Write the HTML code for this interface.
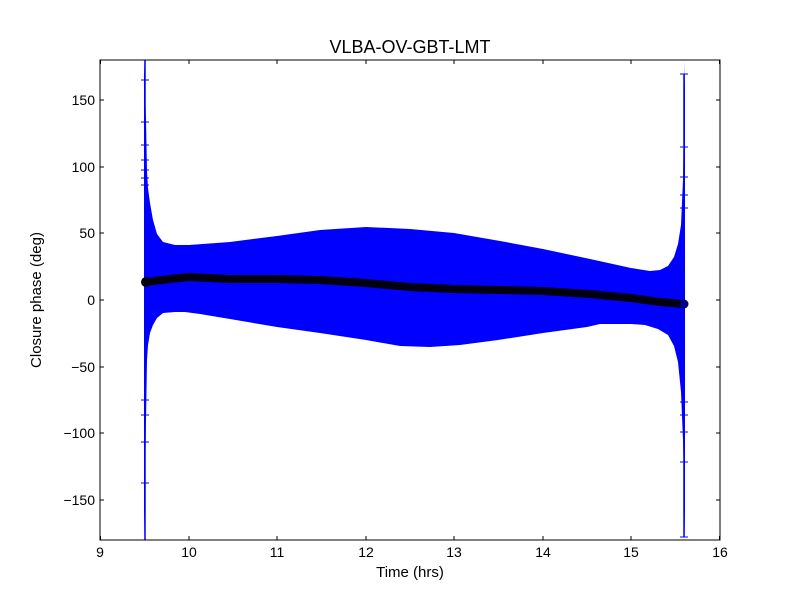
<!DOCTYPE html>
<html><head><style>body{margin:0;background:#fff}svg{display:block}text{font-family:"Liberation Sans","DejaVu Sans",sans-serif}</style></head><body>
<svg width="800" height="600" viewBox="0 0 800 600">
<rect width="800" height="600" fill="#fff"/>
<polygon fill="#0000ff" points="144,60 146,120 147,172 148,188 150,203 153,220 157,234 163,242 175,245 189,245 230,242 277,236 320,230 366,227 410,229 454,233 500,241 543,249 590,259 631,268 650,271 660,270 668,266 674,257 678,244 681,225 683,180 684,120 685,60 685,540 684,480 683,440 681,392 678,362 674,346 668,335 658,329 645,325 631,324 600,324 587,327 543,333 498,340 460,345 430,347 400,346 366,340 320,333 277,327 230,319 200,314 185,312 175,312 163,313 157,318 153,325 150,333 148,345 147,360 146,420 144,540"/>
<line x1="145" y1="60" x2="145" y2="540" stroke="#0000ff" stroke-width="1.5"/>
<line x1="684" y1="74" x2="684" y2="537" stroke="#0000ff" stroke-width="1.5"/>
<g stroke="#0000ff" stroke-width="1">
<line x1="141" x2="149" y1="80" y2="80"/><line x1="141" x2="149" y1="122" y2="122"/><line x1="141" x2="149" y1="145" y2="145"/><line x1="141" x2="149" y1="160" y2="160"/><line x1="141" x2="149" y1="170" y2="170"/><line x1="141" x2="149" y1="178" y2="178"/><line x1="141" x2="149" y1="185" y2="185"/>
<line x1="141" x2="149" y1="442" y2="442"/><line x1="141" x2="149" y1="483" y2="483"/><line x1="141" x2="149" y1="415" y2="415"/><line x1="141" x2="149" y1="400" y2="400"/>
<line x1="680" x2="688" y1="74" y2="74"/><line x1="680" x2="688" y1="147" y2="147"/><line x1="680" x2="688" y1="177" y2="177"/><line x1="680" x2="688" y1="195" y2="195"/><line x1="680" x2="688" y1="208" y2="208"/>
<line x1="680" x2="688" y1="537" y2="537"/><line x1="680" x2="688" y1="462" y2="462"/><line x1="680" x2="688" y1="432" y2="432"/><line x1="680" x2="688" y1="415" y2="415"/><line x1="680" x2="688" y1="402" y2="402"/>
</g>
<polyline fill="none" stroke="#000010" stroke-width="8" stroke-linecap="round" points="146,282 170,279 189,277 230,279 277,279 320,280 366,283 410,287 454,289 500,290 543,291 590,294 631,298 660,302 684,304"/>
<circle cx="146" cy="282" r="5" fill="#000010"/><circle cx="684" cy="304" r="4.5" fill="#000080"/>
<rect x="100" y="60" width="620" height="480" fill="none" stroke="#000" stroke-width="1"/>
<g stroke="#000" stroke-width="1">
<path d="M100.5,540v-4M189,540v-4M277,540v-4M366,540v-4M454,540v-4M543,540v-4M631,540v-4M719.5,540v-4M100.5,60v4M189,60v4M277,60v4M366,60v4M454,60v4M543,60v4M631,60v4M719.5,60v4"/>
<path d="M100,100h4M100,167h4M100,233h4M100,300h4M100,367h4M100,433h4M100,500h4M720,100h-4M720,167h-4M720,233h-4M720,300h-4M720,367h-4M720,433h-4M720,500h-4"/>
</g>
<g font-size="14" text-anchor="middle" fill="#000">
<text x="100" y="557">9</text><text x="189" y="557">10</text><text x="277" y="557">11</text><text x="366" y="557">12</text><text x="454" y="557">13</text><text x="543" y="557">14</text><text x="631" y="557">15</text><text x="720" y="557">16</text>
</g>
<g font-size="14" text-anchor="end" fill="#000">
<text x="95" y="105">150</text><text x="95" y="172">100</text><text x="95" y="238">50</text><text x="95" y="305">0</text><text x="95" y="372">−50</text><text x="95" y="438">−100</text><text x="95" y="505">−150</text>
</g>
<text x="410" y="577" font-size="15" text-anchor="middle">Time (hrs)</text>
<text transform="translate(41,300) rotate(-90)" font-size="15" text-anchor="middle">Closure phase (deg)</text>
<text x="410" y="53" font-size="18" text-anchor="middle">VLBA-OV-GBT-LMT</text>
</svg>
</body></html>
